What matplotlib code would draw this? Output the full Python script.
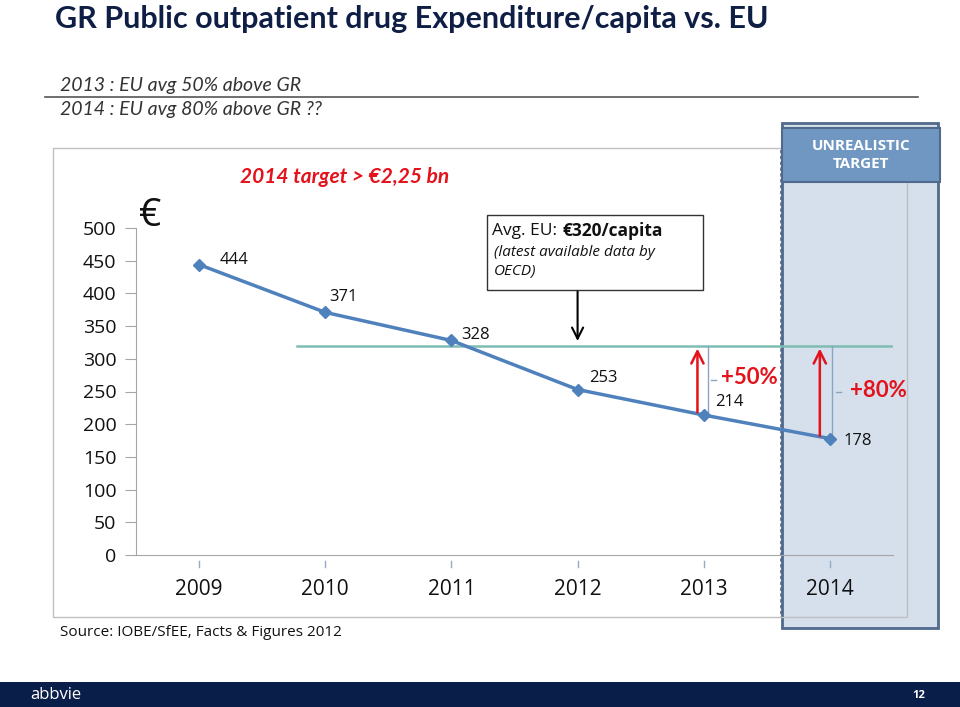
import matplotlib.pyplot as plt
from matplotlib.patches import Rectangle
import matplotlib.transforms as mtransforms

# data
years = ["2009", "2010", "2011", "2012", "2013", "2014"]
spend = [444, 371, 328, 253, 214, 178]
eu_avg = 320
y_ticks = [0, 50, 100, 150, 200, 250, 300, 350, 400, 450, 500]

navy = "#0E1E45"
line_blue = "#4F81BD"
red = "#E3121B"
teal = "#7FBDB4"

plt.rcParams["font.family"] = ["Open Sans", "DejaVu Sans"]

fig = plt.figure(figsize=(9.6, 7.07), dpi=100)
W, H = 960, 707

def fx(px):
    return px / W

def fy(py):
    return 1 - py / H

# title and subtitle
fig.text(fx(55), fy(19), "GR Public outpatient drug Expenditure/capita vs. EU",
         fontsize=22, fontweight="bold", color=navy, va="center", family="Lato")
fig.text(fx(60), fy(85), "2013 : EU avg 50% above GR", fontsize=14, style="italic",
         color="#333333", va="center", family="Lato")
fig.text(fx(60), fy(110), "2014 : EU avg 80% above GR ??", fontsize=14, style="italic",
         color="#333333", va="center", family="Lato")
fig.add_artist(plt.Line2D([fx(45), fx(918)], [fy(97), fy(97)], color="#555555", lw=1.2))

# shaded "unrealistic target" column (behind the chart)
fig.add_artist(Rectangle((fx(782), fy(628)), fx(938 - 782), (628 - 123) / H,
                         facecolor="#D5E0EC", edgecolor="#50698C", lw=2.0, zorder=-2))
fig.add_artist(plt.Line2D([fx(781), fx(781)], [fy(150), fy(617)], color="#50698C",
                          lw=1.2, ls=(0, (2, 1.5)), zorder=-1))

# chart frame
fig.add_artist(Rectangle((fx(53), fy(617)), fx(907 - 53), (617 - 148) / H,
                         fill=False, edgecolor="#BFBFBF", lw=1.0, zorder=1))

ax = fig.add_axes([fx(136), fy(555), fx(893 - 136), (555 - 228) / H])
ax.patch.set_alpha(0)
x = list(range(len(years)))
ax.set_xlim(-0.5, 5.5)
ax.set_ylim(0, 500)

ax.plot(x, spend, color=line_blue, lw=2.5, marker="D", markersize=6, zorder=3)

# EU average line
ax.plot([0.78, 5.58], [eu_avg, eu_avg], color=teal, lw=1.8, zorder=2)

# value labels
offsets = [(0.16, 7), (0.03, 23), (0.08, 8), (0.09, 17), (0.09, 20), (0.11, -3)]
for xi, v, (dx, dy) in zip(x, spend, offsets):
    ax.text(xi + dx, v + dy, str(v), fontsize=12, color="#111111", va="center", ha="left")

# red gap arrows and brackets
for xa, xb, v in [(3.95, 4.03, spend[4]), (4.92, 5.02, spend[5])]:
    ax.annotate("", xy=(xa, eu_avg), xytext=(xa, v),
                arrowprops=dict(arrowstyle="->", color=red, lw=1.8, mutation_scale=22))
    ax.plot([xb, xb], [v, eu_avg], color="#8EA3BE", lw=1.0)
    mid = (v + eu_avg) / 2
    ax.plot([xb + 0.03, xb + 0.07], [mid, mid], color="#8EA3BE", lw=1.0)
ax.text(4.14, 271, "+50%", color=red, fontsize=16, fontweight="bold", va="center",
        family="Lato")
ax.text(5.16, 252, "+80%", color=red, fontsize=16, fontweight="bold", va="center",
        family="Lato")

# axes styling
for s in ["top", "right"]:
    ax.spines[s].set_visible(False)
ax.spines["left"].set_color("#A6A6A6")
ax.spines["bottom"].set_color("#A6A6A6")
ax.set_yticks(y_ticks)
ax.set_yticklabels([str(t) for t in y_ticks], fontsize=14, color="#111111")
ax.tick_params(axis="y", length=8, color="#A6A6A6", pad=6)
ax.set_xticks(x)
ax.set_xticklabels(years, fontsize=15, color="#111111")
ax.tick_params(axis="x", length=0, pad=17)
trans = mtransforms.blended_transform_factory(ax.transData, ax.transAxes)
for xi in x:
    ax.plot([xi, xi], [-0.017, -0.037], color="#95A9C2", lw=1.0, transform=trans,
            clip_on=False)

# euro sign and target text
fig.text(fx(150), fy(216), "€", fontsize=28, color="#111111", ha="center", va="center")
fig.text(fx(240), fy(177), "2014 target > €2,25 bn", fontsize=15, color=red,
         fontweight="bold", style="italic", va="center", family="Lato")

# Avg EU box (behind the axes so the axes text shows on top)
fig.add_artist(Rectangle((fx(487), fy(290)), fx(703 - 487), (290 - 215) / H,
                         facecolor="white", edgecolor="#333333", lw=1.0, zorder=-1.5))
t1 = fig.text(fx(492), fy(231), "Avg. EU: ", fontsize=12.5, color="#111111", va="center")
fig.text(fx(494), fy(253), "(latest available data by", fontsize=11, style="italic",
         color="#111111", va="center")
fig.text(fx(494), fy(272), "OECD)", fontsize=11, style="italic", color="#111111",
         va="center")
ax.annotate("€320/capita", xy=(1, 0.5), xycoords=t1, xytext=(1, 0),
            textcoords="offset points", fontsize=12.5, fontweight="bold",
            color="#111111", va="center", ha="left", annotation_clip=False)
ax.annotate("", xy=(3.0, eu_avg + 3), xytext=(3.0, 407),
            arrowprops=dict(arrowstyle="->", color="black", lw=1.5, mutation_scale=20),
            annotation_clip=False)

# unrealistic target header
fig.add_artist(Rectangle((fx(782), fy(182)), fx(940 - 782), (182 - 128) / H,
                         facecolor="#7096C2", edgecolor="#50698C", lw=1.5, zorder=2))
fig.text(fx(861), fy(155), "UNREALISTIC\nTARGET", fontsize=11, color="white",
         fontweight="bold", ha="center", va="center", linespacing=1.3, zorder=3)

# source
fig.text(fx(60), fy(633), "Source: IOBE/SfEE, Facts & Figures 2012", fontsize=11,
         color="#111111", va="center")

# footer bar
fig.add_artist(Rectangle((0, 0), 1, 25 / H, facecolor="#0A1E4A", edgecolor="none"))
fig.text(fx(30), fy(695), "abbvie", fontsize=12, color="white", va="center")
fig.text(fx(912), fy(696), "12", fontsize=8, color="white", va="center", fontweight="bold")

fig.savefig("out.png", dpi=100)
